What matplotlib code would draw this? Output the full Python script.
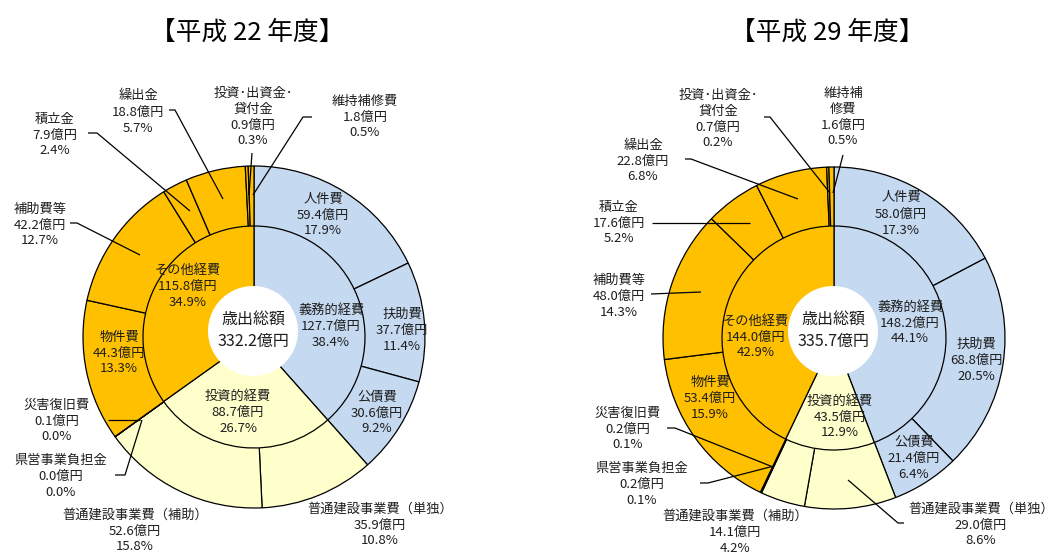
import matplotlib
matplotlib.use("Agg")
import matplotlib.pyplot as plt
from matplotlib.patches import Circle

plt.rcParams['font.family'] = ['Noto Sans CJK JP', 'DejaVu Sans']

W, H = 1056, 554

# ---------------- data ----------------
inner_names = ["義務的経費", "投資的経費", "その他経費"]
outer_names = ["人件費", "扶助費", "公債費", "普通建設事業費（単独）", "普通建設事業費（補助）",
               "災害復旧費", "県営事業負担金", "物件費", "補助費等", "積立金", "繰出金",
               "投資･出資金･\n貸付金", "維持補修費"]
outer_group = [0, 0, 0, 1, 1, 1, 1, 2, 2, 2, 2, 2, 2]

titles = ["【平成 22 年度】", "【平成 29 年度】"]
totals = [332.2, 335.7]

inner_h22 = [127.7, 88.7, 115.8]
inner_pct_h22 = [38.4, 26.7, 34.9]
outer_h22 = [59.4, 37.7, 30.6, 35.9, 52.6, 0.1, 0.0, 44.3, 42.2, 7.9, 18.8, 0.9, 1.8]
outer_pct_h22 = [17.9, 11.4, 9.2, 10.8, 15.8, 0.0, 0.0, 13.3, 12.7, 2.4, 5.7, 0.3, 0.5]

inner_h29 = [148.2, 43.5, 144.0]
inner_pct_h29 = [44.1, 12.9, 42.9]
outer_h29 = [58.0, 68.8, 21.4, 29.0, 14.1, 0.2, 0.2, 53.4, 48.0, 17.6, 22.8, 0.7, 1.6]
outer_pct_h29 = [17.3, 20.5, 6.4, 8.6, 4.2, 0.1, 0.1, 15.9, 14.3, 5.2, 6.8, 0.2, 0.5]

# ---------------- styles / layout ----------------
group_colors = ["#C5D9F1", "#FFFFCC", "#FFC000"]
text_color = "#1e1e1e"

fig = plt.figure(figsize=(W / 100, H / 100), dpi=100)
ax = fig.add_axes([0, 0, 1, 1])


def Y(y):
    return H - y


charts = [
    dict(cx=254, cy=337, R=171, r_in=111, hole=(253, 331, 45), title_xy=(247, 33),
         inner=inner_h22, inner_pct=inner_pct_h22, outer=outer_h22, outer_pct=outer_pct_h22,
         total=totals[0], title=titles[0],
         inner_pos=[(331, 326), (238, 412), (188, 286)],
         outer_pos=[(323, 215), (402, 330), (377, 413), (380, 525), (135, 531),
                    (57, 421), (61, 476), (119, 353), (40, 225), (55, 135), (138, 112),
                    (253, 117), (365, 117)],
         outer_names_override={},
         leaders=[
             [(70, 223), (77, 223), (140, 255)],      # 補助費等
             [(88, 133), (97, 133), (190, 211)],      # 積立金
             [(169, 110), (175, 110), (223, 199)],    # 繰出金
             [(252, 153), (249, 195)],                # 投資
             [(312, 117), (303, 117), (253, 195)],    # 維持補修
             [(108, 420), (140, 420)],                # 災害
             [(115, 475), (125, 475), (142, 420)],    # 県営
         ]),
    dict(cx=834, cy=338, R=171, r_in=112, hole=(833, 331, 45), title_xy=(827, 33),
         inner=inner_h29, inner_pct=inner_pct_h29, outer=outer_h29, outer_pct=outer_pct_h29,
         total=totals[1], title=titles[1],
         inner_pos=[(910, 323), (840, 417), (756, 337)],
         outer_pos=[(901, 214), (976, 360), (914, 458), (981, 525), (735, 532),
                    (628, 429), (642, 484), (710, 398), (619, 296), (619, 223), (643, 161),
                    (718, 119), (843, 117)],
         outer_names_override={12: "維持補\n修費"},
         leaders=[
             [(651, 294), (701, 292)],                # 補助費等
             [(652, 223), (750, 223)],                # 積立金
             [(685, 159), (691, 159), (798, 199)],    # 繰出金
             [(764, 117), (770, 117), (830, 193)],    # 投資
             [(843, 155), (833, 193)],                # 維持補修
             [(667, 428), (675, 428), (773, 467)],    # 災害
             [(700, 483), (708, 483), (774, 466)],    # 県営
             [(904, 523), (898, 523), (848, 480)],    # 単独
         ]),
]

for ch in charts:
    cx, cy = ch["cx"], Y(ch["cy"])
    outer_cols = [group_colors[g] for g in outer_group]
    ax.pie(ch["outer"], colors=outer_cols, startangle=90, counterclock=False,
           radius=ch["R"], center=(cx, cy), normalize=True,
           wedgeprops=dict(edgecolor="black", linewidth=0.9))
    ax.pie(ch["inner"], colors=group_colors, startangle=90, counterclock=False,
           radius=ch["r_in"], center=(cx, cy), normalize=True,
           wedgeprops=dict(edgecolor="black", linewidth=0.9))
    hx, hy, hr = ch["hole"]
    ax.add_patch(Circle((hx, Y(hy)), hr, facecolor="white", edgecolor="none", zorder=5))
    ax.text(hx, Y(hy), f"歳出総額\n{ch['total']:.1f}億円", ha="center", va="center",
            fontsize=11.5, color=text_color, linespacing=1.35, zorder=6)

    # inner labels
    for name, v, p, (x, y) in zip(inner_names, ch["inner"], ch["inner_pct"], ch["inner_pos"]):
        ax.text(x, Y(y), f"{name}\n{v:.1f}億円\n{p:.1f}%", ha="center", va="center",
                fontsize=9.5, color=text_color, linespacing=1.3, zorder=6)
    # outer labels
    for i, (name, v, p, (x, y)) in enumerate(zip(outer_names, ch["outer"], ch["outer_pct"], ch["outer_pos"])):
        name = ch["outer_names_override"].get(i, name)
        ax.text(x, Y(y), f"{name}\n{v:.1f}億円\n{p:.1f}%", ha="center", va="center",
                fontsize=9.5, color=text_color, linespacing=1.3, zorder=6)
    for pts in ch["leaders"]:
        ax.plot([p[0] for p in pts], [Y(p[1]) for p in pts], color="black", lw=0.9,
                zorder=4, solid_capstyle="butt")

    tx, ty = ch["title_xy"]
    ax.text(tx, Y(ty), ch["title"], ha="center", va="center", fontsize=18.5, color="black")

ax.set_xlim(0, W)
ax.set_ylim(0, H)
ax.set_aspect("equal")
ax.set_axis_off()
fig.savefig("out.png", dpi=100, facecolor="white")
